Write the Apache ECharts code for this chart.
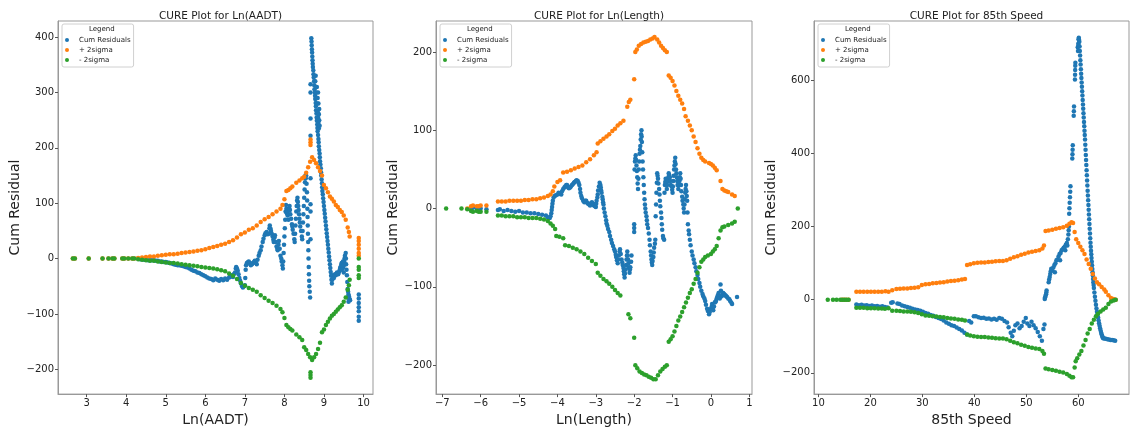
<!DOCTYPE html>
<html>
<head>
<meta charset="utf-8">
<script src="https://cdn.jsdelivr.net/npm/echarts@6/dist/echarts.min.js"></script>
<style>html,body{margin:0;padding:0;background:#fff}#c{width:1135px;height:432px}</style>
</head>
<body>
<div id="c"></div>
<script>
// ---------- Panel 1: Ln(AADT) ----------
const aadtCum = [[4.3,0],[4.35,-1],[4.4,-1],[4.45,-2],[4.5,-2],[4.55,-3],[4.6,-3],[4.65,-3],[4.7,-3],[4.75,-4],[4.8,-4],[4.85,-5],[4.9,-5],[4.95,-6],[5.0,-6],[5.05,-7],[5.1,-8],[5.15,-9],[5.2,-10],[5.25,-11],[5.3,-12],[5.35,-12],[5.4,-13],[5.45,-14],[5.5,-15],[5.55,-16],[5.6,-18],[5.65,-20],[5.7,-22],[5.75,-23],[5.8,-25],[5.85,-26],[5.9,-28],[5.95,-30],[6.0,-32],[6.05,-34],[6.1,-36],[6.15,-37],[6.2,-39],[6.25,-36],[6.3,-38],[6.35,-40],[6.4,-37],[6.45,-39],[6.5,-36],[6.55,-38],
[6.6,-34],[6.62,-33],[6.65,-30],[6.68,-32],[6.7,-33],[6.72,-28],[6.75,-25],[6.77,-18],[6.78,-15],[6.8,-18],[6.82,-22],[6.84,-28],[6.86,-35],[6.88,-40],[6.9,-45],[6.93,-50],[6.95,-52],[6.98,-50],[7.0,-48],[7.01,-35],[7.02,-20],[7.03,-12],[7.05,-8],[7.08,-6],[7.1,-5],[7.13,-9],[7.15,-12],[7.18,-10],[7.2,-8],[7.23,-6],[7.25,-4],[7.28,-8],
[7.3,-10],[7.32,-2],[7.35,5],[7.37,10],[7.4,15],[7.42,22],[7.45,30],[7.47,36],[7.5,42],[7.52,46],[7.55,48],[7.58,44],[7.6,45],[7.62,55],[7.63,60],[7.65,54],[7.66,50],[7.68,45],[7.7,40],[7.72,34],[7.73,30],[7.75,38],[7.76,42],[7.78,30],[7.8,22],[7.82,18],[7.83,15],[7.85,25],[7.86,32],[7.88,18],[7.9,5],[7.92,0],[7.93,-5],[7.95,-12],[7.96,-18],
[7.97,-5],[7.98,10],[7.99,25],[8.0,40],[8.01,55],[8.02,70],[8.03,85],[8.04,97],[8.05,90],[8.06,82],[8.07,85],[8.08,78],[8.1,70],[8.11,80],[8.12,90],[8.13,95],[8.14,88],[8.15,80],[8.17,72],[8.19,62],[8.2,58],[8.21,52],[8.23,45],[8.25,35],
[8.26,30],[8.27,45],[8.28,60],[8.29,72],[8.3,85],[8.31,95],[8.32,105],[8.33,110],[8.34,102],[8.35,95],[8.36,88],[8.37,80],[8.38,72],[8.39,65],[8.4,58],[8.42,50],[8.44,40],
[8.45,35],[8.46,50],[8.47,65],[8.48,80],[8.49,95],[8.5,110],[8.51,125],[8.52,138],[8.53,150],[8.54,145],
[8.55,150],[8.56,135],[8.57,120],[8.575,105],[8.58,90],[8.585,75],[8.59,60],[8.595,45],[8.6,30],[8.605,15],[8.61,0],[8.615,-15],[8.62,-28],[8.625,-40],[8.63,-50],[8.64,-60],[8.65,-70],
[8.66,35],[8.66,85],[8.66,98],[8.66,145],[8.66,222],[8.66,253],[8.66,300],[8.66,315],
[8.68,398],[8.685,392],[8.69,385],[8.695,378],[8.7,372],[8.705,365],[8.71,358],[8.715,352],[8.72,346],[8.73,340],[8.735,333],[8.74,327],[8.75,320],[8.755,313],[8.76,306],[8.77,300],[8.775,294],[8.78,288],[8.79,281],[8.795,275],[8.8,268],[8.81,262],[8.815,255],[8.82,249],[8.83,242],[8.835,236],[8.84,230],[8.85,223],[8.86,216],[8.865,210],[8.87,203],[8.88,196],[8.89,190],[8.895,183],[8.9,176],[8.91,170],[8.92,163],[8.925,156],[8.93,150],[8.94,143],[8.95,136],[8.955,129],[8.96,122],[8.97,116],[8.98,109],[8.99,102],[9.0,95],[9.01,88],[9.02,81],[9.03,74],[9.04,67],[9.05,60],[9.06,53],[9.07,46],[9.08,39],[9.09,32],[9.1,25],[9.11,18],[9.12,11],[9.13,4],[9.14,-3],[9.15,-10],[9.16,-17],[9.17,-24],[9.18,-31],[9.19,-38],[9.2,-45],
[8.78,320],[8.8,310],[8.81,300],[8.82,290],[8.83,280],[8.84,265],[8.85,255],[8.86,245],[8.87,235],[8.86,280],[8.85,300],[8.87,260],[8.88,250],[8.89,240],[8.88,270],[8.84,290],[8.82,310],[8.79,330],[8.8,290],[8.86,262],
[9.21,-38],[9.22,-30],[9.24,-33],[9.25,-35],[9.27,-30],[9.28,-28],[9.3,-30],[9.32,-27],[9.33,-25],[9.35,-27],[9.36,-28],[9.38,-24],[9.4,-20],[9.41,-17],[9.42,-15],[9.44,-10],[9.45,-8],[9.46,-14],[9.47,-18],[9.49,-15],[9.5,-12],[9.51,-5],[9.52,0],[9.53,5],[9.55,10],[9.555,0],[9.56,-10],[9.57,-20],[9.58,-30],[9.59,-42],[9.6,-55],[9.61,-60],[9.62,-65],[9.63,-68],[9.64,-72],[9.65,-74],[9.66,-75],[9.6,-70],[9.62,-78],[9.5,-25],[9.48,-5],[9.45,-20],
[9.88,-65],[9.88,-72],[9.88,-80],[9.88,-88],[9.88,-95],[9.88,-105],[9.88,-112]];
const aadtPlus = [[2.65,0],[2.7,0],[3.05,0],[3.4,0],[3.55,0],[3.65,0],[3.7,0],[3.9,0],[3.95,0],[4.05,0],[4.15,0],[4.2,0],[4.3,1],[4.4,2],[4.5,3],[4.6,4],[4.7,4],[4.8,5],[4.9,6],[5.0,7],[5.1,8],[5.2,8],[5.3,9],[5.4,10],[5.5,11],[5.6,12],[5.7,13],[5.8,14],[5.9,15],[6.0,17],[6.1,19],[6.2,21],[6.3,23],[6.4,25],[6.5,27],[6.6,30],[6.7,33],[6.8,38],[6.9,44],[7.0,47],[7.1,52],[7.2,55],[7.3,60],[7.4,66],[7.5,71],[7.6,75],[7.7,80],[7.8,85],[7.9,90],[7.95,97],[8.0,107],[8.05,122],[8.1,124],[8.15,127],[8.2,130],[8.3,137],[8.38,141],[8.45,145],[8.5,148],[8.55,155],[8.6,165],[8.65,175],[8.7,183],[8.75,178],[8.8,172],[8.85,165],[8.9,158],[8.95,150],[9.0,133],[9.05,127],[9.1,120],[9.15,112],[9.2,108],[9.25,103],[9.3,97],[9.35,93],[9.4,88],[9.45,84],[9.5,78],[9.55,70],[9.6,56],[9.63,48],[9.65,40],[8.66,205],[8.66,210],[8.66,215],[9.88,37],[9.88,32],[9.88,25],[9.88,18],[9.88,10],[9.88,5]];
const aadtMinus = [[2.65,0],[2.7,0],[3.05,0],[3.4,0],[3.55,0],[3.65,0],[3.7,0],[3.9,0],[3.95,0],[4.05,0],[4.15,0],[4.2,0],[4.3,-1],[4.4,-2],[4.5,-3],[4.6,-4],[4.7,-4],[4.8,-5],[4.9,-6],[5.0,-7],[5.1,-8],[5.2,-8],[5.3,-9],[5.4,-10],[5.5,-11],[5.6,-12],[5.7,-13],[5.8,-14],[5.9,-15],[6.0,-16],[6.1,-17],[6.2,-18],[6.3,-19],[6.4,-21],[6.5,-23],[6.6,-27],[6.7,-31],[6.8,-37],[6.9,-44],[7.0,-49],[7.1,-53],[7.2,-56],[7.3,-60],[7.4,-66],[7.5,-71],[7.6,-76],[7.7,-80],[7.8,-85],[7.9,-91],[7.95,-97],[8.0,-107],[8.05,-120],[8.1,-124],[8.15,-127],[8.2,-130],[8.3,-137],[8.38,-142],[8.45,-147],[8.5,-160],[8.55,-165],[8.6,-172],[8.65,-178],[8.7,-183],[8.75,-178],[8.8,-172],[8.85,-163],[8.9,-152],[8.95,-133],[9.0,-128],[9.05,-120],[9.1,-114],[9.15,-108],[9.2,-103],[9.25,-100],[9.3,-96],[9.35,-92],[9.4,-88],[9.45,-84],[9.5,-78],[9.55,-70],[9.6,-56],[9.63,-48],[9.65,-38],[8.66,-205],[8.66,-210],[8.66,-215],[9.88,0],[9.88,-15],[9.88,-20],[9.88,-30],[9.88,-35]];
const aadtXTicks = [3,4,5,6,7,8,9,10];
const aadtYTicks = [-200,-100,0,100,200,300,400];

// ---------- Panel 2: Ln(Length) ----------
const lenCum = [[-6.25,0],[-6.2,1],[-6.1,0],[-6.05,-1],[-6.0,0],[-5.85,-1],[-5.55,-2],[-5.5,-1],[-5.4,-3],[-5.3,-2],[-5.2,-3],[-5.1,-4],[-5.0,-3],[-4.9,-5],[-4.8,-5],[-4.7,-6],[-4.6,-6],[-4.5,-7],[-4.4,-8],[-4.3,-9],[-4.25,-11],[-4.2,-12],
[-4.18,-10],[-4.16,-6],[-4.15,-2],[-4.14,2],[-4.13,6],[-4.12,10],[-4.1,14],[-4.07,16],[-4.04,17],[-4.0,18],
[-3.97,20],[-3.94,19],[-3.9,18],[-3.88,22],[-3.85,25],[-3.82,27],[-3.8,28],[-3.77,30],[-3.75,30],[-3.72,27],[-3.7,26],[-3.67,27],[-3.65,28],[-3.62,30],[-3.6,31],[-3.57,33],[-3.55,34],[-3.52,35],[-3.5,36],[-3.47,35],[-3.45,33],[-3.43,30],[-3.41,25],[-3.4,20],[-3.38,16],[-3.36,13],[-3.33,10],[-3.3,8],[-3.27,10],[-3.25,10],[-3.22,7],[-3.2,6],[-3.17,5],[-3.15,4],[-3.12,7],[-3.1,8],[-3.07,6],[-3.05,4],[-3.02,3],[-3.0,2],[-2.99,6],[-2.98,10],[-2.96,14],[-2.95,18],[-2.94,23],[-2.92,28],[-2.9,33],[-2.88,30],[-2.87,27],[-2.86,23],[-2.85,20],[-2.83,15],[-2.82,12],[-2.81,8],[-2.8,5],[-2.79,0],[-2.77,-5],[-2.75,-10],[-2.73,-15],[-2.72,-19],[-2.7,-22],[-2.68,-26],[-2.65,-30],[-2.63,-35],[-2.6,-40],[-2.58,-44],[-2.55,-48],[-2.52,-52],[-2.5,-55],[-2.48,-59],[-2.47,-62],[-2.45,-66],[-2.43,-70],[-2.42,-65],[-2.4,-60],[-2.38,-55],[-2.37,-52],[-2.35,-58],[-2.33,-65],[-2.31,-69],[-2.3,-72],[-2.28,-76],[-2.27,-80],[-2.26,-84],[-2.25,-88],[-2.24,-83],[-2.22,-78],[-2.21,-72],[-2.2,-65],[-2.19,-60],[-2.18,-55],[-2.17,-60],[-2.16,-65],[-2.15,-70],[-2.14,-75],[-2.12,-82],[-2.11,-78],[-2.1,-75],[-2.08,-68],[-2.07,-60],
[-2.0,-20],[-2.0,-25],[-2.0,-30],
[-1.99,50],[-1.98,60],[-1.97,64],[-1.96,68],[-1.95,62],[-1.94,55],[-1.93,48],[-1.92,40],[-1.91,32],[-1.9,25],[-1.89,38],[-1.88,50],[-1.87,60],[-1.86,70],[-1.85,75],[-1.84,80],[-1.83,88],[-1.82,95],[-1.81,100],[-1.805,92],[-1.8,85],[-1.79,72],[-1.78,60],[-1.77,50],[-1.76,40],[-1.75,30],[-1.74,20],[-1.73,12],[-1.72,5],[-1.71,0],[-1.7,-5],[-1.68,-10],[-1.67,-15],[-1.66,-20],[-1.64,-25],[-1.62,-32],[-1.6,-40],[-1.59,-47],[-1.57,-55],[-1.56,-60],[-1.55,-65],[-1.54,-69],[-1.53,-72],[-1.52,-67],[-1.5,-62],[-1.49,-56],[-1.48,-50],[-1.46,-45],[-1.45,-40],
[-1.44,-10],[-1.43,5],[-1.42,20],[-1.41,33],[-1.4,45],[-1.39,42],[-1.38,38],[-1.37,32],[-1.35,25],[-1.34,18],[-1.33,10],[-1.32,3],[-1.3,-5],[-1.29,-12],[-1.28,-20],[-1.27,-27],[-1.25,-35],[-1.24,-38],[-1.22,-40],
[-1.21,20],[-1.2,30],[-1.19,34],[-1.18,38],[-1.17,32],[-1.15,25],[-1.14,30],[-1.12,35],[-1.11,40],[-1.1,45],[-1.09,43],[-1.07,40],[-1.06,35],[-1.05,30],[-1.03,29],[-1.02,28],[-1.01,24],[-1.0,20],[-0.99,28],[-0.98,35],[-0.97,42],[-0.96,50],[-0.95,55],[-0.94,60],[-0.93,65],[-0.92,57],[-0.91,50],[-0.9,45],[-0.89,40],[-0.88,35],[-0.87,30],[-0.85,25],[-0.84,30],[-0.82,35],[-0.81,40],[-0.8,45],[-0.79,38],[-0.78,30],[-0.77,22],[-0.75,15],[-0.74,10],[-0.72,5],[-0.71,0],[-0.7,-5],[-0.69,5],[-0.68,12],[-0.67,20],[-0.66,25],[-0.65,30],[-0.64,22],[-0.63,16],[-0.62,10],[-0.61,-5],[-0.6,-20],[-0.58,-28],[-0.57,-33],[-0.55,-40],[-0.53,-47],[-0.5,-55],[-0.48,-60],[-0.45,-65],[-0.43,-70],[-0.4,-75],[-0.38,-80],[-0.35,-85],[-0.33,-90],[-0.3,-95],[-0.28,-100],[-0.25,-105],[-0.22,-109],[-0.2,-112],[-0.17,-115],[-0.15,-118],[-0.13,-123],[-0.1,-128],[-0.08,-131],[-0.05,-135],[-0.03,-132],[0.0,-128],[0.02,-125],[0.03,-122],[0.05,-126],[0.06,-130],[0.08,-125],[0.1,-120],[0.12,-119],[0.13,-118],[0.15,-115],[0.17,-112],[0.19,-110],[0.2,-108],[0.22,-112],[0.23,-115],[0.25,-97],[0.26,-105],[0.28,-112],[0.3,-110],[0.32,-108],[0.34,-109],[0.36,-110],[0.38,-111],[0.4,-112],[0.42,-113],[0.45,-115],[0.48,-116],[0.5,-118],[0.53,-120],[0.55,-122],[0.68,-113]];
const lenPlus = [[-6.35,0],[-6.25,3],[-6.2,4],[-6.1,3],[-6.05,3],[-6.0,4],[-5.85,4],[-5.55,9],[-5.45,9],[-5.35,9],[-5.25,10],[-5.15,10],[-5.05,10],[-4.95,10],[-4.85,11],[-4.75,11],[-4.65,12],[-4.55,12],[-4.45,13],[-4.35,14],[-4.25,16],[-4.18,18],[-4.12,22],[-4.08,28],[-4.0,34],[-3.93,36],[-3.85,46],[-3.75,47],[-3.65,49],[-3.55,51],[-3.45,53],[-3.35,55],[-3.25,59],[-3.15,63],[-3.05,68],[-2.98,72],[-2.95,83],[-2.88,86],[-2.8,89],[-2.72,92],[-2.65,95],[-2.57,99],[-2.5,102],[-2.43,106],[-2.36,109],[-2.28,112],[-2.18,130],[-2.14,136],[-2.1,139],[-2.0,165],[-1.97,200],[-1.93,203],[-1.88,208],[-1.82,210],[-1.76,212],[-1.7,213],[-1.64,214],[-1.58,216],[-1.52,217],[-1.47,219],[-1.4,216],[-1.35,212],[-1.3,208],[-1.25,205],[-1.2,202],[-1.15,200],[-1.1,170],[-1.05,167],[-1.0,163],[-0.95,157],[-0.9,150],[-0.85,144],[-0.8,139],[-0.75,134],[-0.7,127],[-0.66,118],[-0.6,112],[-0.55,106],[-0.5,100],[-0.45,92],[-0.4,85],[-0.35,77],[-0.3,70],[-0.25,65],[-0.2,62],[-0.15,60],[-0.05,58],[0.0,57],[0.05,55],[0.1,52],[0.15,49],[0.25,35],[0.3,25],[0.35,23],[0.4,22],[0.45,21],[0.55,18],[0.62,16]];
const lenMinus = [[-6.9,0],[-6.5,0],[-6.35,-1],[-6.25,-3],[-6.2,-4],[-6.1,-3],[-6.05,-4],[-6.0,-4],[-5.85,-4],[-5.55,-9],[-5.45,-9],[-5.35,-10],[-5.25,-10],[-5.15,-10],[-5.05,-11],[-4.95,-11],[-4.85,-11],[-4.75,-12],[-4.65,-12],[-4.55,-12],[-4.45,-13],[-4.35,-14],[-4.25,-16],[-4.18,-19],[-4.12,-22],[-4.06,-26],[-4.03,-35],[-3.95,-36],[-3.85,-38],[-3.8,-47],[-3.7,-48],[-3.6,-50],[-3.5,-52],[-3.4,-55],[-3.3,-58],[-3.2,-63],[-3.1,-67],[-3.0,-71],[-2.95,-82],[-2.88,-86],[-2.8,-90],[-2.72,-93],[-2.65,-96],[-2.57,-100],[-2.5,-104],[-2.43,-108],[-2.36,-111],[-2.15,-135],[-2.1,-140],[-2.0,-165],[-1.97,-200],[-1.92,-204],[-1.86,-208],[-1.8,-210],[-1.74,-212],[-1.68,-213],[-1.62,-215],[-1.56,-216],[-1.5,-218],[-1.44,-218],[-1.38,-213],[-1.32,-208],[-1.26,-205],[-1.2,-202],[-1.15,-200],[-1.1,-170],[-1.05,-167],[-1.0,-163],[-0.95,-157],[-0.9,-150],[-0.85,-143],[-0.8,-138],[-0.75,-132],[-0.7,-126],[-0.65,-120],[-0.6,-114],[-0.55,-108],[-0.5,-103],[-0.45,-96],[-0.4,-90],[-0.35,-82],[-0.3,-75],[-0.25,-68],[-0.2,-65],[-0.15,-62],[-0.08,-60],[0.0,-58],[0.05,-55],[0.1,-52],[0.15,-48],[0.2,-38],[0.25,-28],[0.3,-24],[0.35,-23],[0.45,-21],[0.55,-19],[0.62,-17],[0.7,0]];
const lenXTicks = [-7,-6,-5,-4,-3,-2,-1,0,1];
const lenYTicks = [-200,-100,0,100,200];

// ---------- Panel 3: 85th Speed ----------
const spdCum = [[17.3,-13],[17.8,-15],[18.3,-14],[18.8,-16],[19.3,-15],[19.8,-17],[20.3,-16],[20.8,-18],[21.3,-17],[21.8,-19],[22.3,-18],[22.8,-20],[23.3,-21],[24,-8],[24.3,-7],[25.2,-10],[25.6,-12],[26.1,-16],[26.6,-18],[27.1,-20],[27.6,-22],[28.1,-25],[28.6,-27],[29.1,-28],[29.6,-30],[30.1,-33],[30.6,-36],[31.1,-38],[31.6,-42],[32.1,-44],[32.6,-47],[33.1,-50],[33.6,-53],[34.1,-57],[34.6,-62],[35.1,-66],[35.6,-70],[36.1,-72],[36.6,-76],[37.1,-80],[37.6,-84],[38.1,-90],[38.6,-95],[39,-58],[39.4,-62],[39.9,-45],[40.3,-45],[40.8,-48],[41.3,-50],[41.8,-49],[42.3,-52],[42.8,-51],[43.3,-54],[43.8,-52],[44.3,-55],[44.8,-50],[45.3,-52],[45.8,-58],[46.3,-62],[46.6,-75],[47,-90],[47.3,-100],[47.6,-85],[47.9,-70],[48.3,-65],[48.7,-78],[49.1,-72],[49.5,-60],[49.9,-50],[50.2,-65],[50.6,-72],[51,-60],[51.4,-70],[51.8,-78],[52.2,-88],[52.6,-100],[53,-112],[53.3,-80],[53.5,-68],
[53.55,2],[53.6,6],[53.7,10],[53.8,15],[53.85,20],[53.9,25],
[54.3,48],[54.4,55],[54.5,62],[54.6,70],[54.7,78],[54.8,85],
[55.0,80],[55.2,88],[55.4,95],[55.6,100],[55.8,108],[56.0,110],[56.2,118],[56.4,125],[56.6,128],[56.8,135],[57.0,138],[57.2,142],[57.4,145],[57.6,150],[57.8,155],[58.0,165],[58.1,178],[58.15,190],[58.2,200],[55.5,75],[56.5,108],[57.5,135],[57.9,148],
[58.25,235],[58.3,250],[58.35,265],[58.4,280],[58.45,295],[58.5,310],
[58.85,386],[58.88,398],[58.91,410],[58.94,422],
[59.12,503],[59.15,515],[59.18,528],
[59.36,602],[59.38,615],[59.4,628],[59.42,640],[59.44,648],
[59.9,690],[60.0,700],[60.05,712],[60.1,716],[60.15,710],[59.95,680],[60.05,695],
[60.2,705],[60.25,692],[60.3,680],[60.35,668],[60.4,655],[60.45,643],[60.5,630],[60.55,618],[60.6,606],[60.65,594],[60.7,582],[60.75,570],[60.8,558],[60.85,546],[60.9,534],[60.95,522],[61.0,510],[61.05,498],[61.1,486],[61.15,474],[61.2,462],[61.25,450],[61.3,438],[61.35,424],[61.4,410],[61.45,396],[61.5,382],[61.55,368],[61.6,354],[61.65,340],[61.7,326],[61.75,312],[61.8,298],[61.85,285],[61.9,272],[61.95,259],[62.0,246],[62.05,233],[62.1,220],[62.15,207],[62.2,194],[62.25,181],[62.3,168],[62.35,156],[62.4,145],[62.45,134],[62.5,124],[62.55,114],[62.6,104],[62.65,94],[62.7,84],[62.75,75],[62.8,66],[62.85,57],[62.9,48],[62.95,40],[63.0,32],[63.1,20],[63.2,8],[63.3,-3],[63.4,-14],[63.5,-24],[63.6,-33],[63.7,-40],[63.8,-48],[63.9,-56],[64.0,-64],[64.1,-71],[64.2,-78],[64.3,-84],[64.4,-90],[64.5,-95],[64.6,-99],[64.7,-103],[64.8,-105],[65.0,-106],[65.3,-107],[65.6,-108],[65.9,-109],[66.2,-110],[66.5,-110],[66.8,-111],[67.1,-112]];
const spdPlus = [[14.5,0],[14.9,0],[15.3,0],[15.8,0],[17.3,22],[18,22],[18.7,22],[19.4,22],[20.1,22],[20.8,22],[21.5,22],[22.2,22],[22.9,23],[23.5,22],[24.2,26],[25,29],[25.7,30],[26.4,31],[27.1,31],[27.8,32],[28.5,33],[29.2,34],[29.9,40],[30.6,42],[31.3,43],[32,45],[32.7,46],[33.4,47],[34.1,48],[34.8,50],[35.5,51],[36.2,52],[36.9,53],[37.6,55],[38.2,57],[38.6,95],[39.2,97],[39.9,100],[40.6,101],[41.3,102],[42,102],[42.7,103],[43.4,104],[44.1,105],[44.8,106],[45.5,106],[46.2,108],[46.9,112],[47.6,116],[48.3,119],[49,123],[49.7,126],[50.4,129],[51.1,131],[51.8,133],[52.5,135],[53.1,140],[53.4,148],[53.7,188],[54.3,189],[55,191],[55.7,194],[56.4,196],[57.1,198],[57.8,202],[58.3,208],[58.7,212],[59,210],[59.3,185],[59.6,165],[60,155],[60.4,145],[60.8,135],[61.2,125],[61.6,110],[62,98],[62.4,85],[62.8,70],[63.2,58],[63.6,48],[64,42],[64.5,35],[65,28],[65.3,22],[65.8,12],[66.3,5],[66.8,2],[67.2,0]];
const spdMinus = [[11.8,0],[12.8,0],[13.5,0],[14.2,0],[14.6,0],[15.0,0],[15.4,0],[15.8,0],[17.3,-22],[18,-22],[18.7,-22],[19.4,-23],[20.1,-23],[20.8,-23],[21.5,-24],[22.2,-24],[22.8,-25],[23.5,-23],[24.2,-30],[25,-30],[25.7,-31],[26.4,-32],[27.1,-32],[27.8,-33],[28.5,-34],[29.2,-36],[29.9,-40],[30.6,-43],[31.3,-44],[32,-45],[32.7,-46],[33.4,-47],[34.1,-48],[34.8,-50],[35.5,-51],[36.2,-52],[36.9,-54],[37.6,-55],[38.2,-57],[38.6,-95],[39.2,-98],[39.9,-100],[40.6,-101],[41.3,-102],[42,-102],[42.7,-103],[43.4,-104],[44.1,-105],[44.8,-106],[45.5,-106],[46.2,-108],[46.9,-112],[47.6,-116],[48.3,-119],[49,-123],[49.7,-126],[50.4,-129],[51.1,-131],[51.8,-133],[52.5,-135],[53.1,-140],[53.4,-148],[53.7,-188],[54.3,-190],[55,-192],[55.7,-194],[56.4,-197],[57.1,-199],[57.8,-203],[58.3,-208],[58.7,-212],[59,-212],[59.3,-185],[59.5,-168],[59.8,-160],[60.2,-150],[60.6,-140],[61,-125],[61.4,-110],[61.8,-92],[62.2,-80],[62.6,-65],[63,-55],[63.4,-45],[63.8,-38],[64.3,-32],[64.8,-27],[65.3,-22],[65.8,-12],[66.3,-5],[66.8,-2],[67.2,0]];
const spdXTicks = [10,20,30,40,50,60];
const spdYTicks = [-200,0,200,400,600];

const seriesNames = ['Cum Residuals', '+ 2sigma', '- 2sigma'];
const colors = ['#1f77b4', '#ff7f0e', '#2ca02c'];
const panelTitles = ['CURE Plot for Ln(AADT)', 'CURE Plot for Ln(Length)', 'CURE Plot for 85th Speed'];
const xNames = ['Ln(AADT)', 'Ln(Length)', '85th Speed'];
const yName = 'Cum Residual';

const panels = [
  {data: [aadtCum, aadtPlus, aadtMinus], xt: aadtXTicks, yt: aadtYTicks, xr: [2.274, 10.24], yr: [-244.6, 429], left: 58, width: 315},
  {data: [lenCum, lenPlus, lenMinus], xt: lenXTicks, yt: lenYTicks, xr: [-7.164, 1.07], yr: [-237, 239.5], left: 436, width: 316},
  {data: [spdCum, spdPlus, spdMinus], xt: spdXTicks, yt: spdYTicks, xr: [9.15, 69.76], yr: [-258, 762], left: 814, width: 315}
];

const FONT = 'DejaVu Sans';
const fmt = v => v < 0 ? '\u2212' + Math.abs(v) : String(v);
const TOP = 21, HEIGHT = 377;

const option = {
  animation: false,
  backgroundColor: '#fff',
  textStyle: {fontFamily: FONT},
  title: panels.map((p, i) => ({
    text: panelTitles[i], left: p.left + p.width / 2, top: 6, textAlign: 'center',
    textStyle: {fontFamily: FONT, fontSize: 10.5, fontWeight: 'normal', color: '#222'}
  })),
  grid: panels.map(p => ({left: p.left, top: TOP, width: p.width, height: HEIGHT, show: true, borderColor: '#999', borderWidth: 1, backgroundColor: 'transparent'})),
  xAxis: panels.map((p, i) => ({
    type: 'value', gridIndex: i, min: p.xr[0], max: p.xr[1],
    name: xNames[i], nameLocation: 'middle', nameGap: 13,
    nameTextStyle: {fontFamily: FONT, fontSize: 14, color: '#222'},
    axisLine: {show: true, onZero: false, lineStyle: {color: '#999'}},
    axisTick: {show: true, length: 3, customValues: p.xt, lineStyle: {color: '#555'}},
    axisLabel: {customValues: p.xt, formatter: fmt, fontFamily: FONT, fontSize: 10, color: '#222', margin: 4},
    splitLine: {show: false}
  })),
  yAxis: panels.map((p, i) => ({
    type: 'value', gridIndex: i, min: p.yr[0], max: p.yr[1],
    name: yName, nameLocation: 'middle', nameGap: 30,
    nameTextStyle: {fontFamily: FONT, fontSize: 14, color: '#222'},
    axisLine: {show: true, onZero: false, lineStyle: {color: '#999'}},
    axisTick: {show: true, length: 3, customValues: p.yt, lineStyle: {color: '#555'}},
    axisLabel: {customValues: p.yt, formatter: fmt, fontFamily: FONT, fontSize: 10, color: '#222', margin: 4},
    splitLine: {show: false}
  })),
  legend: panels.map((p, i) => ({
    data: seriesNames, orient: 'vertical', left: p.left + 4, top: 24,
    padding: [11, 3, 2, 3], itemGap: 0, itemWidth: 14, itemHeight: 4, icon: 'circle',
    backgroundColor: 'rgba(255,255,255,0.85)', borderColor: '#d0d0d0', borderWidth: 1, borderRadius: 2,
    textStyle: {fontFamily: FONT, fontSize: 7, color: '#222', lineHeight: 10, padding: [0, 0, 0, 0]},
    selectedMode: false
  })),
  graphic: panels.map(p => ({
    type: 'text', left: p.left + 31, top: 26, z: 100,
    style: {text: 'Legend', font: '7px "DejaVu Sans"', fill: '#222'}
  })),
  series: []
};

panels.forEach((p, i) => {
  p.data.forEach((d, k) => {
    option.series.push({
      type: 'scatter', name: seriesNames[k], xAxisIndex: i, yAxisIndex: i,
      data: d, symbol: 'circle', symbolSize: 4.5,
      itemStyle: {color: colors[k], opacity: 1},
      emphasis: {disabled: true}, z: 2 + k
    });
  });
});

const chart = echarts.init(document.getElementById('c'), null, {renderer: 'canvas'});
chart.setOption(option);
</script>
</body>
</html>
